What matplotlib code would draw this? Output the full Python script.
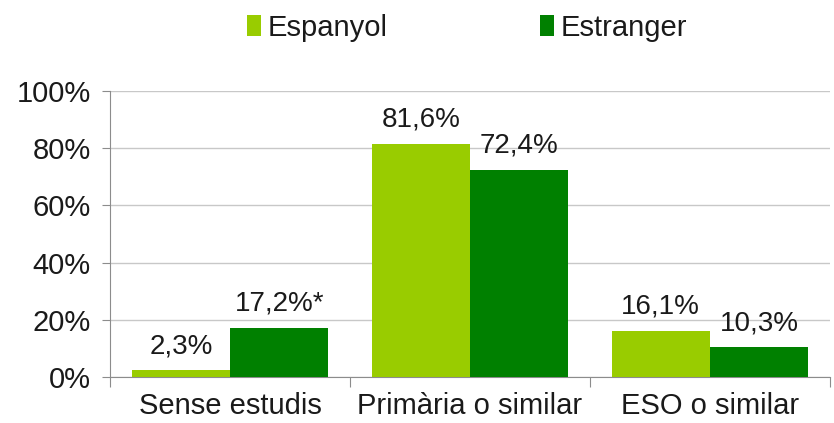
import numpy as np
import matplotlib.pyplot as plt
from matplotlib.ticker import FuncFormatter

plt.rcParams['font.family'] = ['Liberation Sans', 'DejaVu Sans']

# Dades
categories = ['Sense estudis', 'Primària o similar', 'ESO o similar']
espanyol = [2.3, 81.6, 16.1]
estranger = [17.2, 72.4, 10.3]
etiquetes_esp = ['2,3%', '81,6%', '16,1%']
etiquetes_est = ['17,2%*', '72,4%', '10,3%']

fig = plt.figure(figsize=(8.34, 4.23), dpi=100)
ax = fig.add_axes([0.132, 0.109, 0.863, 0.676])

x = np.arange(len(categories))
w = 0.41
b1 = ax.bar(x - w / 2, espanyol, w, color='#99CC00', label='Espanyol', zorder=3)
b2 = ax.bar(x + w / 2, estranger, w, color='#008000', label='Estranger', zorder=3)

for barres, etiq in [(b1, etiquetes_esp), (b2, etiquetes_est)]:
    for b, t in zip(barres, etiq):
        ax.annotate(t, (b.get_x() + b.get_width() / 2, b.get_height()),
                    xytext=(0, 8), textcoords='offset points',
                    ha='center', va='bottom', fontsize=20, color='#1a1a1a')

ax.set_xlim(-0.5, 2.5)
ax.set_ylim(0, 100)
ax.set_yticks(np.arange(0, 101, 20))
ax.yaxis.set_major_formatter(FuncFormatter(lambda v, p: f'{int(v)}%'))
ax.grid(axis='y', color='#c8c8c8', linewidth=1, zorder=0)

ax.set_xticks([-0.5, 0.5, 1.5, 2.5])
ax.set_xticklabels([])
ax.set_xticks(x, minor=True)
ax.set_xticklabels(categories, minor=True)
ax.tick_params(axis='x', which='minor', length=0, pad=11, labelsize=21, labelcolor='#1a1a1a')
ax.tick_params(axis='x', which='major', length=7, color='#8c8c8c')
ax.tick_params(axis='y', length=6, color='#8c8c8c', labelsize=21, labelcolor='#1a1a1a', pad=8)

for s in ['top', 'right']:
    ax.spines[s].set_visible(False)
for s in ['left', 'bottom']:
    ax.spines[s].set_color('#8c8c8c')

fig.legend(loc='upper center', bbox_to_anchor=(0.56, 1.03), ncol=2, frameon=False,
           fontsize=21, handlelength=0.48, handleheight=0.7, handletextpad=0.25,
           columnspacing=5.2, labelcolor='#1a1a1a')

fig.savefig('out.png', dpi=100)
